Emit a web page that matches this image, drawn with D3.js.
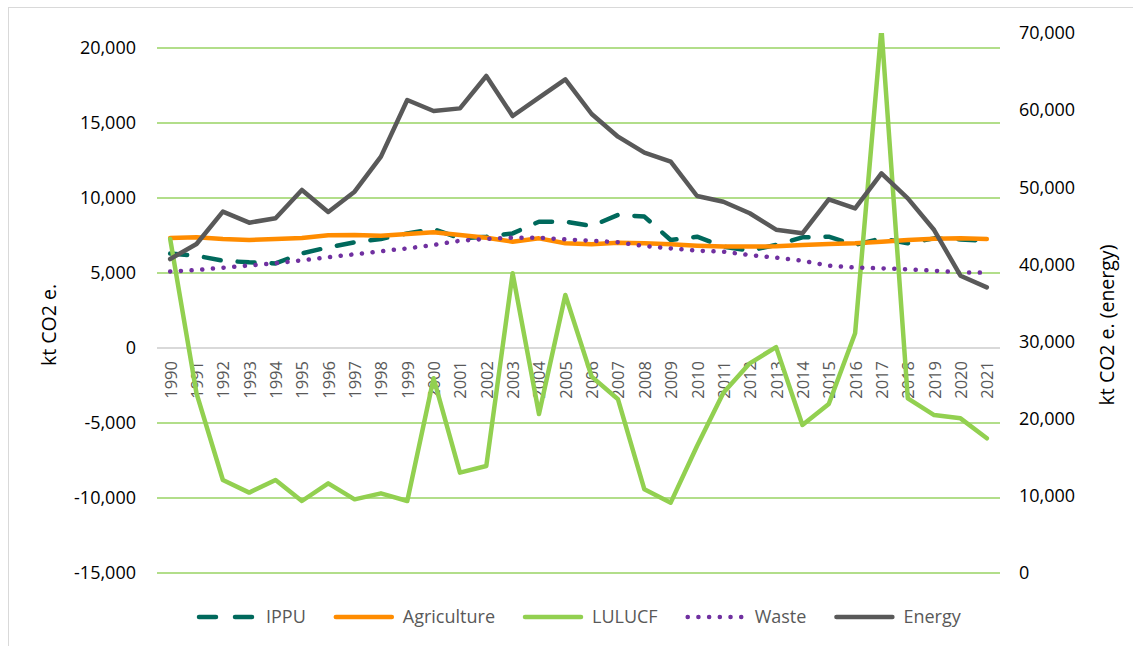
<!DOCTYPE html>
<html>
<head>
<meta charset="utf-8">
<script src="https://cdn.jsdelivr.net/npm/d3@7"></script>
<style>
  body { margin: 0; background: #fff; }
  text { font-family: "Open Sans", "Noto Sans", sans-serif; }
</style>
</head>
<body>
<div class="chart"></div>
<script>
const years = d3.range(1990, 2022);

const ippu = [6300, 6150, 5820, 5710, 5640, 6310, 6710, 7050, 7270, 7640,
  7930, 7310, 7420, 7640, 8420, 8420, 8130, 8870, 8760, 7200,
  7420, 6760, 6490, 6870, 7380, 7420, 6870, 7310, 6980, 7310, 7240, 7150];
const agriculture = [7330, 7380, 7270, 7200, 7260, 7330, 7510, 7530, 7490, 7600,
  7710, 7530, 7350, 7090, 7310, 6980, 6910, 7020, 6980, 6910,
  6820, 6760, 6760, 6780, 6870, 6930, 6980, 7090, 7200, 7290, 7310, 7270];
const lulucf = [7270, -3020, -8800, -9640, -8800, -10200, -9020, -10090, -9690, -10200,
  -2020, -8310, -7870, 4980, -4400, 3530, -1910, -3420, -9420, -10310,
  -6530, -2980, -1020, 60, -5130, -3730, 980, 21300, -3360, -4470, -4690, -6020];
const waste = [5100, 5200, 5350, 5500, 5650, 5850, 6050, 6250, 6450, 6640,
  6870, 7150, 7270, 7350, 7350, 7240, 7150, 7050, 6800, 6640,
  6490, 6420, 6200, 6020, 5820, 5490, 5360, 5310, 5240, 5150, 5040, 5020];
const energy = [40700, 42650, 46840, 45410, 45980, 49650, 46800, 49430, 53970, 61310,
  59890, 60230, 64430, 59240, 61620, 64000, 59500, 56560, 54490, 53320,
  48870, 48130, 46630, 44500, 44030, 48440, 47270, 51810, 48570, 44460, 38540, 37030];

const leftTicks = [-15000, -10000, -5000, 0, 5000, 10000, 15000, 20000];
const rightTicks = [0, 10000, 20000, 30000, 40000, 50000, 60000, 70000];

const series = [
  { name: "IPPU", values: ippu, axis: "left", color: "#00695c", dash: "17,17", cap: "round", w: 4.5 },
  { name: "Agriculture", values: agriculture, axis: "left", color: "#ff8c00", dash: null, cap: "round", w: 4.5 },
  { name: "LULUCF", values: lulucf, axis: "left", color: "#92d050", dash: null, cap: "round", w: 4.5 },
  { name: "Waste", values: waste, axis: "left", color: "#7030a0", dash: "0.1,10.6", cap: "round", w: 4.5 },
  { name: "Energy", values: energy, axis: "right", color: "#595959", dash: null, cap: "round", w: 4.5 },
];

const width = 1133, height = 646;
const plotLeft = 157, plotRight = 1000, plotTop = 33, plotBottom = 573;

const fmt = d3.formatLocale({ decimal: ".", thousands: ",", grouping: [3], currency: ["", ""], minus: "-" }).format(",");

const svg = d3.select(".chart").append("svg")
  .attr("width", width)
  .attr("height", height);

svg.append("rect")
  .attr("x", 8.5).attr("y", 7.5)
  .attr("width", 1200).attr("height", 700)
  .attr("fill", "none")
  .attr("stroke", "#d9d9d9");

const x = d3.scalePoint().domain(years).range([plotLeft, plotRight]).padding(0.5);
const yL = d3.scaleLinear().domain([-15000, 21000]).range([plotBottom, plotTop]);
const yR = d3.scaleLinear().domain([0, 70000]).range([plotBottom, plotTop]);

// gridlines
svg.append("g")
  .selectAll("line")
  .data(leftTicks)
  .enter()
  .append("line")
  .attr("x1", plotLeft).attr("x2", plotRight)
  .attr("y1", (d) => yL(d)).attr("y2", (d) => yL(d))
  .attr("stroke", (d) => (d === 0 ? "#d9d9d9" : "#b2de8a"))
  .attr("stroke-width", 2);

// left axis
const gl = svg.append("g")
  .attr("transform", `translate(${plotLeft},0)`)
  .call(d3.axisLeft(yL).tickValues(leftTicks).tickSize(0).tickPadding(21).tickFormat(fmt));
gl.select(".domain").remove();
gl.selectAll("text").style("font-size", "18px").attr("fill", "#000");

// right axis
const gr = svg.append("g")
  .attr("transform", `translate(${plotRight},0)`)
  .call(d3.axisRight(yR).tickValues(rightTicks).tickSize(0).tickPadding(19).tickFormat(fmt));
gr.select(".domain").remove();
gr.selectAll("text").style("font-size", "18px").attr("fill", "#000");

// category axis at zero
const gx = svg.append("g")
  .attr("transform", `translate(0,${yL(0)})`)
  .call(d3.axisBottom(x).tickSize(0));
gx.select(".domain").remove();
gx.selectAll("text")
  .attr("x", -13)
  .attr("y", 0)
  .attr("dy", "0.36em")
  .attr("transform", "rotate(-90)")
  .style("text-anchor", "end")
  .style("font-size", "16.5px")
  .attr("fill", "#595959");

// axis titles
svg.append("text")
  .attr("transform", "translate(56,325) rotate(-90)")
  .attr("text-anchor", "middle")
  .style("font-size", "19.5px")
  .text("kt CO2 e.");

svg.append("text")
  .attr("transform", "translate(1114,325) rotate(-90)")
  .attr("text-anchor", "middle")
  .style("font-size", "19.5px")
  .text("kt CO2 e. (energy)");

// lines
svg.append("clipPath").attr("id", "plot")
  .append("rect")
  .attr("x", plotLeft - 10).attr("y", plotTop)
  .attr("width", plotRight - plotLeft + 20).attr("height", plotBottom - plotTop + 10);

const plot = svg.append("g").attr("clip-path", "url(#plot)");

series.forEach((s) => {
  const yScale = s.axis === "left" ? yL : yR;
  const line = d3.line()
    .x((d, i) => x(years[i]))
    .y((d) => yScale(d));
  plot.append("path")
    .datum(s.values)
    .attr("d", line)
    .attr("fill", "none")
    .attr("stroke", s.color)
    .attr("stroke-width", s.w)
    .attr("stroke-linejoin", "round")
    .attr("stroke-linecap", s.cap)
    .attr("stroke-dasharray", s.dash);
});

// legend
const legend = svg.append("g").attr("transform", "translate(0,617)");
let lx = 199;
series.forEach((s) => {
  legend.append("line")
    .attr("x1", lx).attr("x2", lx + 56)
    .attr("y1", 0).attr("y2", 0)
    .attr("stroke", s.color)
    .attr("stroke-width", s.w)
    .attr("stroke-linecap", s.cap)
    .attr("stroke-dasharray", s.dash === "17,17" ? "17,19" : s.dash);
  const t = legend.append("text")
    .attr("x", lx + 67)
    .attr("y", 0)
    .attr("dy", "0.35em")
    .style("font-size", "18px")
    .attr("fill", "#595959")
    .text(s.name);
  lx += 67 + t.node().getComputedTextLength() + 30;
});
</script>
</body>
</html>
